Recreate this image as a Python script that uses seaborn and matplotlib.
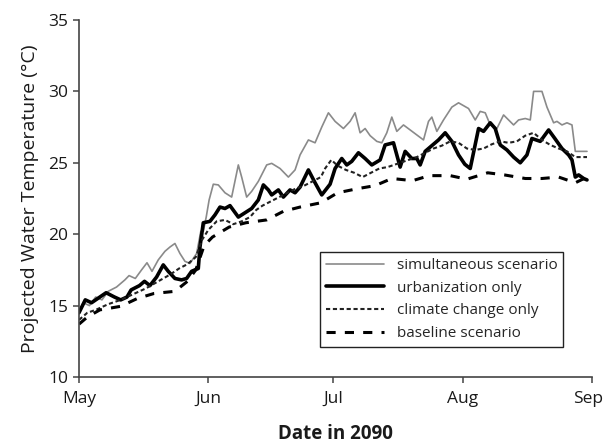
import pandas as pd
import matplotlib.pyplot as plt
import matplotlib.dates as mdates
import matplotlib.transforms as mtransforms
import seaborn as sns

# days after 1 May 2090 and projected water temperature (deg C)
sim_days = [0, 1, 2.5, 4, 5.5, 7, 9, 11, 12, 13.5, 15, 16.3, 17.5, 19, 20.6, 21.8, 23, 24.2,
            25.4, 26.6, 27.4, 28.2, 29.2, 29.8, 30.5, 31.2, 32.2, 33.4, 35, 36.6, 38.2, 39,
            40.2, 41.4, 43, 45, 46.2, 48.2, 50.2, 51.8, 53, 55, 56.6, 58.2, 59.8, 61.4, 63.4,
            65, 66.2, 67.4, 68.6, 69.8, 71.4, 72.6, 73.8, 75, 76.2, 77.8, 79.4, 81, 82.6,
            83.8, 84.6, 85.8, 87.4, 89.4, 91, 93.4, 95, 96.2, 97.4, 98.6, 100.2, 101.8, 103,
            104.2, 105.4, 107, 108.2, 109, 111, 112.2, 113.8, 114.6, 115.8, 117, 118.2, 119,
            121.8]
sim_vals = [14.6, 15.2, 15.0, 15.6, 15.4, 16.0, 16.3, 16.8, 17.1, 16.9, 17.5, 18.0, 17.4, 18.2,
            18.8, 19.1, 19.35, 18.65, 18.1, 17.95, 18.3, 18.65, 20.2, 20.2, 21.2, 22.4, 23.5,
            23.45, 22.9, 22.6, 24.85, 24.0, 22.6, 23.0, 23.7, 24.85, 24.96, 24.6, 24.0, 24.5,
            25.55, 26.6, 26.4, 27.5, 28.5, 27.9, 27.4, 27.9, 28.5, 27.1, 27.4, 26.9, 26.5,
            26.4, 27.1, 28.2, 27.2, 27.65, 27.3, 26.95, 26.6, 27.9, 28.2, 27.2, 28.0, 28.9,
            29.2, 28.8, 28.0, 28.6, 28.5, 27.65, 27.4, 28.35, 28.0, 27.65, 28.0, 28.1, 28.0,
            30.0, 30.0, 28.9, 27.8, 27.9, 27.65, 27.8, 27.65, 25.8, 25.8]

urb_days = [0, 1.5, 3, 4.5, 6.5, 8.5, 10, 11.5, 12.5, 14.5, 15.7, 17, 18.6, 20.2, 21.4, 23,
            24.6, 25.8, 27, 28.6, 29, 29.8, 31.4, 32.6, 33.8, 35, 36.2, 38.2, 39.8, 41.4, 43,
            44.2, 45.4, 46.2, 47.8, 49, 50.6, 51.8, 53, 55, 56.6, 58.2, 60.2, 61.4, 63, 64.2,
            65.4, 67, 68.6, 70.2, 72.2, 73.4, 75.4, 77, 78.2, 79.8, 81, 81.8, 83, 84.2, 86.2,
            87.8, 89.4, 91, 92.5, 93.8, 95.8, 97, 98.6, 99.8, 101, 102.6, 104.2, 105.8, 107.4,
            108.6, 110.6, 112.6, 114.1, 115.8, 117.4, 118.2, 119, 119.8, 121, 121.8]
urb_vals = [14.5, 15.4, 15.2, 15.5, 15.9, 15.6, 15.4, 15.6, 16.1, 16.4, 16.7, 16.4, 17.0, 17.85,
            17.4, 16.9, 16.8, 16.9, 17.4, 17.6, 19.1, 20.8, 20.9, 21.35, 21.9, 21.8, 22.0,
            21.2, 21.5, 21.8, 22.4, 23.45, 23.1, 22.75, 23.1, 22.6, 23.1, 22.9, 23.3, 24.5,
            23.6, 22.75, 23.5, 24.6, 25.3, 24.85, 25.1, 25.7, 25.3, 24.85, 25.2, 26.25, 26.4,
            24.7, 25.8, 25.3, 25.3, 24.85, 25.8, 26.1, 26.6, 27.1, 26.5, 25.55, 24.9, 24.6,
            27.4, 27.2, 27.8, 27.4, 26.25, 25.9, 25.4, 25.0, 25.55, 26.7, 26.5, 27.3, 26.7,
            26.0, 25.55, 25.2, 24.0, 24.15, 23.9, 23.8]

clim_days = [0, 2, 4, 7, 10, 13, 16, 19, 22, 24, 26, 28, 29.5, 31, 33, 35, 37, 39, 41, 42.5,
             44, 46, 48, 50, 52, 54, 56, 58, 59, 60.5, 62, 64, 66, 68, 70, 72, 74, 75.5, 77,
             79, 81, 83, 85, 87, 89, 91, 93, 95, 97, 99, 101, 103, 105, 107, 109, 111, 113,
             115, 117, 119, 121.8]
clim_vals = [14.0, 14.5, 14.7, 15.1, 15.4, 15.8, 16.2, 16.7, 17.2, 17.6, 17.9, 18.4, 19.6,
             20.3, 20.9, 21.0, 20.7, 20.9, 21.2, 21.7, 22.0, 22.3, 22.6, 22.9, 23.2, 23.4,
             23.7, 24.0, 24.6, 25.2, 24.8, 24.5, 24.3, 24.0, 24.3, 24.6, 24.7, 24.85, 25.0,
             25.2, 25.4, 25.7, 26.0, 26.2, 26.5, 26.4, 26.0, 25.9, 26.0, 26.3, 26.5, 26.4,
             26.5, 26.9, 27.1, 26.6, 26.25, 26.0, 25.8, 25.4, 25.4]

base_days = [0, 2, 5, 10, 14, 18, 23, 26, 28, 30, 32, 36, 40, 45, 49, 53, 58, 62, 67, 71, 75,
             80, 84, 89, 93, 98, 102, 107, 111, 115, 119, 121.8]
base_vals = [13.7, 14.2, 14.7, 14.95, 15.5, 15.85, 16.0, 16.7, 17.5, 19.2, 19.8, 20.5, 20.8,
             21.0, 21.6, 21.9, 22.2, 22.9, 23.2, 23.4, 23.9, 23.75, 24.1, 24.1, 23.85, 24.3,
             24.15, 23.9, 23.9, 24.0, 23.6, 24.0]

scenarios = ['simultaneous scenario', 'urbanization only', 'climate change only', 'baseline scenario']

start = pd.Timestamp('2090-05-01')
frames = []
for name, days, vals in zip(scenarios, [sim_days, urb_days, clim_days, base_days],
                            [sim_vals, urb_vals, clim_vals, base_vals]):
    frames.append(pd.DataFrame({'date': start + pd.to_timedelta(days, unit='D'),
                                'temp': vals, 'scenario': name}))
df = pd.concat(frames, ignore_index=True)

sns.set_theme(style="ticks")
plt.rcParams['font.family'] = ['Open Sans', 'DejaVu Sans']

fig = plt.figure(figsize=(6.05, 4.47), dpi=100)
ax = fig.add_axes([0.1306, 0.1566, 0.8479, 0.7987])

palette = {'simultaneous scenario': '#8a8a8a', 'urbanization only': '#000000',
           'climate change only': '#222222', 'baseline scenario': '#000000'}
sizes = {'simultaneous scenario': 1.2, 'urbanization only': 2.6,
         'climate change only': 1.5, 'baseline scenario': 2.2}
dashes = {'simultaneous scenario': '', 'urbanization only': '',
          'climate change only': (2, 1.3), 'baseline scenario': (3, 3)}

sns.lineplot(data=df, x='date', y='temp', hue='scenario', style='scenario', size='scenario',
             hue_order=scenarios, style_order=scenarios, size_order=scenarios,
             palette=palette, sizes=sizes, dashes=dashes, ax=ax)

ax.set_xlim(pd.Timestamp('2090-05-01'), pd.Timestamp('2090-09-01'))
ax.set_ylim(10, 35)
ax.set_yticks([10, 15, 20, 25, 30, 35])
ax.xaxis.set_major_locator(mdates.MonthLocator())
ax.xaxis.set_major_formatter(mdates.DateFormatter('%b'))

for side in ['top', 'right']:
    ax.spines[side].set_visible(False)
for side in ['left', 'bottom']:
    ax.spines[side].set_color('#444444')
    ax.spines[side].set_linewidth(1.2)
ax.tick_params(axis='both', direction='out', length=4, width=1.1, color='#444444',
               labelsize=12.5, labelcolor='#1a1a1a')
ax.tick_params(axis='y', pad=3.5)
ax.tick_params(axis='x', pad=6)

# keep the last month label inside the figure
fig.canvas.draw()
last = ax.get_xticklabels()[-1]
last.set_transform(last.get_transform() +
                   mtransforms.ScaledTranslation(-3 / 72, 0, fig.dpi_scale_trans))

ax.set_xlabel('Date in 2090', fontsize=13.5, fontweight='bold', labelpad=12, color='#1a1a1a')
ax.set_ylabel('Projected Water Temperature (°C)', fontsize=14, labelpad=7, color='#1a1a1a')

handles, labels = ax.get_legend_handles_labels()
leg = ax.legend(handles, labels, loc='upper left', bbox_to_anchor=(0.47, 0.35),
                borderaxespad=0, fontsize=11, handlelength=3.8, handletextpad=0.8,
                labelspacing=0.5, fancybox=False, framealpha=1, edgecolor='#222222')
leg.get_frame().set_linewidth(1.0)

plt.savefig('out.png', dpi=100)
